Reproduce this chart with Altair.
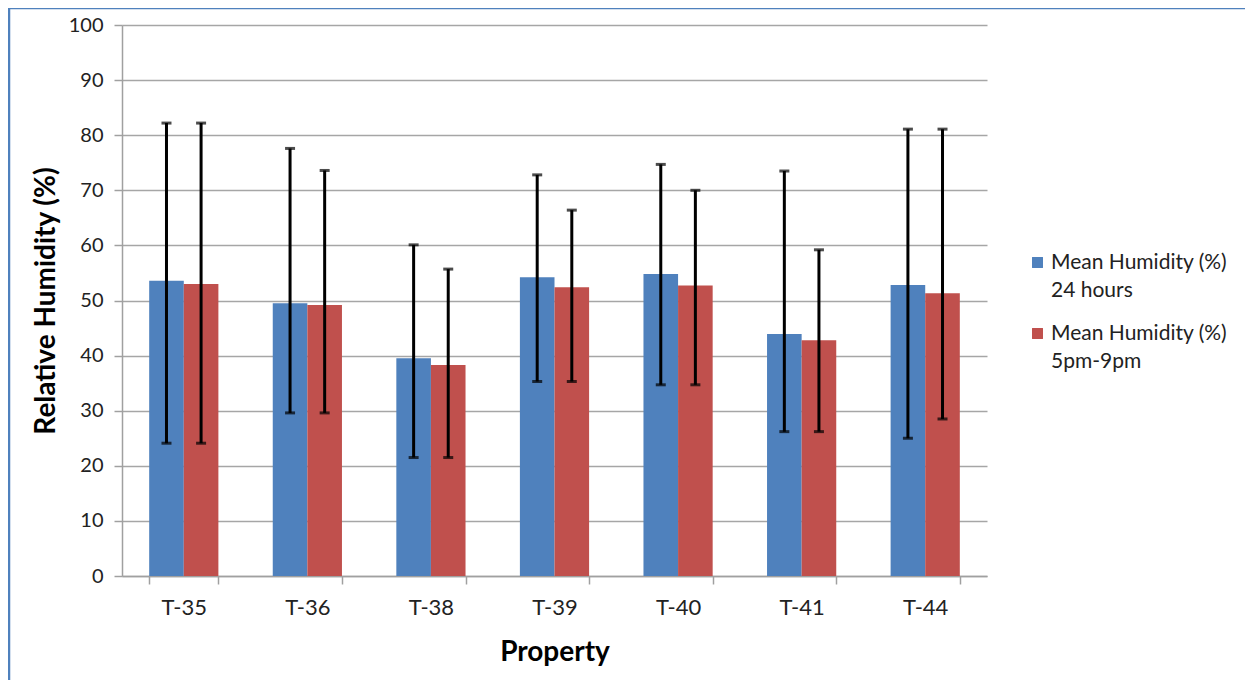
import altair as alt
import pandas as pd

categories = ["T-35", "T-36", "T-38", "T-39", "T-40", "T-41", "T-44"]
series_names = ["Mean Humidity (%)|24 hours", "Mean Humidity (%)|5pm-9pm"]
mean_24h = [53.6, 49.5, 39.5, 54.2, 54.8, 43.9, 52.8]
mean_5to9 = [53.0, 49.2, 38.3, 52.4, 52.7, 42.8, 51.3]
upper_24h = [82.2, 77.6, 60.1, 72.8, 74.7, 73.5, 81.1]
lower_24h = [24.1, 29.6, 21.5, 35.3, 34.7, 26.2, 25.0]
upper_5to9 = [82.2, 73.6, 55.7, 66.4, 70.0, 59.2, 81.1]
lower_5to9 = [24.1, 29.6, 21.5, 35.3, 34.7, 26.2, 28.5]
colors = ["#4F81BD", "#C0504D"]

rows = []
for i, c in enumerate(categories):
    rows.append({"cat": c, "series": series_names[0], "value": mean_24h[i], "lo": lower_24h[i], "hi": upper_24h[i]})
    rows.append({"cat": c, "series": series_names[1], "value": mean_5to9[i], "lo": lower_5to9[i], "hi": upper_5to9[i]})
df = pd.DataFrame(rows)

FONT = "Lato"
W, H = 865, 551

x_enc = alt.X("cat:N", sort=categories,
              scale=alt.Scale(paddingInner=0.44, paddingOuter=0.22),
              axis=alt.Axis(title="Property", labelAngle=0, tickBand="extent",
                            labelFontSize=22, labelPadding=13, tickSize=8,
                            titleFontSize=28, titleFontWeight="bold", titlePadding=20,
                            domainColor="#A0A0A0", tickColor="#A0A0A0", domainWidth=1.5, tickWidth=1.5))
xo_enc = alt.XOffset("series:N", sort=series_names, scale=alt.Scale(paddingInner=0, paddingOuter=0))

bars = alt.Chart(df).mark_bar().encode(
    x=x_enc, xOffset=xo_enc,
    y=alt.Y("value:Q", scale=alt.Scale(domain=[0, 100]),
            axis=alt.Axis(title="Relative Humidity (%)", values=list(range(0, 101, 10)),
                          grid=True, gridColor="#A6A6A6", gridWidth=1.5,
                          labelFontSize=20, labelPadding=11, tickSize=8,
                          titleFontSize=28, titleFontWeight="bold", titlePadding=8,
                          domainColor="#A0A0A0", tickColor="#A0A0A0", domainWidth=1.5, tickWidth=1.5)),
    color=alt.Color("series:N", sort=series_names,
                    scale=alt.Scale(domain=series_names, range=colors),
                    legend=alt.Legend(title=None, orient="none", legendX=905, legendY=227,
                                      symbolType="square", symbolSize=120, symbolStrokeWidth=0,
                                      labelFontSize=21, labelLimit=300, rowPadding=21,
                                      labelOffset=3,
                                      labelExpr="split(datum.label, '|')"))
)

rules = alt.Chart(df).mark_rule(color="black", strokeWidth=3).encode(
    x=x_enc, xOffset=xo_enc, y="lo:Q", y2="hi:Q")
caps_hi = alt.Chart(df).mark_tick(color="black", thickness=3, size=10).encode(
    x=x_enc, xOffset=xo_enc, y="hi:Q")
caps_lo = alt.Chart(df).mark_tick(color="black", thickness=3, size=10).encode(
    x=x_enc, xOffset=xo_enc, y="lo:Q")

border = alt.Chart(pd.DataFrame({"a": [0]})).mark_rect(
    fillOpacity=0, stroke="#4F81BD", strokeWidth=2.5).encode(
    x=alt.value(-113), x2=alt.value(1300), y=alt.value(-17), y2=alt.value(800))

chart = alt.layer(bars, rules, caps_hi, caps_lo, border).properties(
    width=W, height=H,
    autosize=alt.AutoSizeParams(type="none"),
    padding={"left": 114, "top": 17, "right": 258, "bottom": 104},
).configure(
    font=FONT, style={"guide-label": {"lineHeight": 28}}
).configure_axis(
    labelColor="#222222", titleColor="#000000", labelFont=FONT, titleFont=FONT
).configure_legend(labelFont=FONT, labelColor="#222222").configure_view(
    stroke=None
)

chart.save("out.html", embed_options={"renderer": "svg", "actions": False})
